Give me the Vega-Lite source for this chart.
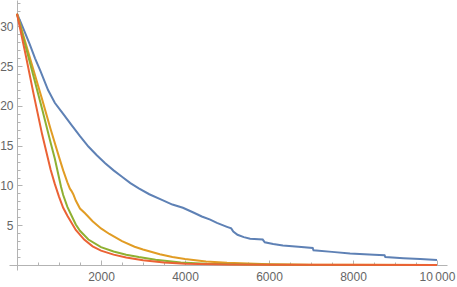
{
  "$schema": "https://vega.github.io/schema/vega-lite/v6.json",
  "width": 438,
  "height": 270,
  "autosize": {"type": "none"},
  "padding": {"left": 9, "top": 0, "right": 10, "bottom": 17},
  "background": "white",
  "config": {"view": {"stroke": null}},
  "resolve": {"axis": {"x": "independent", "y": "independent"}},
  "datasets": {
    "blue": [
      {"x":0,"y":31.6},{"x":100,"y":30.4},{"x":200,"y":29.1},{"x":300,"y":27.8},{"x":430,"y":26.0},{"x":550,"y":24.5},{"x":740,"y":22.0},{"x":900,"y":20.4},{"x":1100,"y":19.0},{"x":1300,"y":17.6},{"x":1500,"y":16.2},{"x":1700,"y":14.9},{"x":1900,"y":13.8},{"x":2100,"y":12.8},{"x":2300,"y":11.9},{"x":2500,"y":11.1},{"x":2700,"y":10.3},{"x":2900,"y":9.65},{"x":3150,"y":8.9},{"x":3450,"y":8.2},{"x":3700,"y":7.6},{"x":3950,"y":7.2},{"x":4200,"y":6.6},{"x":4400,"y":6.1},{"x":4600,"y":5.7},{"x":4760,"y":5.3},{"x":5000,"y":4.8},{"x":5100,"y":4.6},{"x":5150,"y":4.2},{"x":5250,"y":3.8},{"x":5400,"y":3.5},{"x":5550,"y":3.3},{"x":5850,"y":3.2},{"x":5900,"y":2.85},{"x":6100,"y":2.65},{"x":6330,"y":2.45},{"x":6700,"y":2.3},{"x":7040,"y":2.15},{"x":7060,"y":1.85},{"x":7500,"y":1.65},{"x":7930,"y":1.45},{"x":8500,"y":1.3},{"x":8750,"y":1.22},{"x":8770,"y":1.0},{"x":9200,"y":0.85},{"x":9600,"y":0.74},{"x":10000,"y":0.63}
    ],
    "orange": [
      {"x":0,"y":31.6},{"x":200,"y":28.0},{"x":400,"y":24.4},{"x":600,"y":20.8},{"x":800,"y":17.1},{"x":1000,"y":13.6},{"x":1100,"y":11.9},{"x":1200,"y":10.4},{"x":1260,"y":9.6},{"x":1300,"y":9.3},{"x":1340,"y":8.9},{"x":1400,"y":8.1},{"x":1500,"y":7.1},{"x":1620,"y":6.5},{"x":1800,"y":5.5},{"x":2000,"y":4.6},{"x":2200,"y":3.9},{"x":2500,"y":3.0},{"x":2800,"y":2.3},{"x":3000,"y":1.95},{"x":3400,"y":1.35},{"x":3700,"y":1.0},{"x":4000,"y":0.75},{"x":4500,"y":0.45},{"x":5000,"y":0.27},{"x":6000,"y":0.1},{"x":7000,"y":0.04},{"x":8000,"y":0.015},{"x":10000,"y":0}
    ],
    "green": [
      {"x":0,"y":31.6},{"x":200,"y":27.6},{"x":400,"y":23.6},{"x":600,"y":19.6},{"x":800,"y":15.4},{"x":900,"y":13.4},{"x":1000,"y":11.0},{"x":1050,"y":9.8},{"x":1100,"y":8.8},{"x":1200,"y":7.3},{"x":1300,"y":6.2},{"x":1400,"y":5.1},{"x":1500,"y":4.3},{"x":1700,"y":3.2},{"x":2000,"y":2.25},{"x":2300,"y":1.7},{"x":2600,"y":1.3},{"x":2900,"y":1.0},{"x":3300,"y":0.65},{"x":3900,"y":0.3},{"x":4500,"y":0.15},{"x":5500,"y":0.05},{"x":7000,"y":0.01},{"x":10000,"y":0}
    ],
    "red": [
      {"x":0,"y":31.6},{"x":200,"y":26.6},{"x":400,"y":21.4},{"x":600,"y":16.4},{"x":800,"y":12.0},{"x":900,"y":10.2},{"x":1000,"y":8.6},{"x":1100,"y":7.2},{"x":1200,"y":6.2},{"x":1400,"y":4.4},{"x":1600,"y":3.2},{"x":1800,"y":2.35},{"x":2000,"y":1.8},{"x":2300,"y":1.3},{"x":2600,"y":0.95},{"x":3000,"y":0.6},{"x":3500,"y":0.32},{"x":4000,"y":0.17},{"x":5000,"y":0.05},{"x":6000,"y":0.02},{"x":10000,"y":0}
    ]
  },
  "layer": [
    {
      "data": {"name": "blue"},
      "mark": {"type": "line", "color": "#5E81B5", "strokeWidth": 2},
      "encoding": {
        "x": {"field": "x", "type": "quantitative",
          "scale": {"domain": [-190, 10238], "nice": false, "zero": false},
          "axis": {
            "orient": "bottom", "title": null, "grid": false, "offset": -5,
            "values": [2000,4000,6000,8000,10000],
            "labelExpr": "datum.value === 10000 ? '10\u2009000' : '' + datum.value",
            "domainColor": "#b3b3b3", "tickColor": "#b3b3b3",
            "tickSize": -5,
            "labelPadding": 11, "labelColor": "#666666", "labelFont": "Liberation Sans", "labelFontSize": 12,
            "labelFlush": false, "labelOverlap": false
          }
        },
        "y": {"field": "y", "type": "quantitative",
          "scale": {"domain": [-0.63, 33.33], "nice": false, "zero": false},
          "axis": {
            "orient": "left", "title": null, "grid": false, "offset": -8,
            "values": [5,10,15,20,25,30],
            "labelExpr": "'' + datum.value",
            "domainColor": "#b3b3b3", "tickColor": "#b3b3b3",
            "tickSize": -5,
            "labelPadding": 9, "labelColor": "#666666", "labelFont": "Liberation Sans", "labelFontSize": 12,
            "labelFlush": false, "labelOverlap": false
          }
        }
      }
    },
    {
      "data": {"name": "orange"},
      "mark": {"type": "line", "color": "#E19C24", "strokeWidth": 2},
      "encoding": {
        "x": {"field": "x", "type": "quantitative",
          "axis": {
            "orient": "bottom", "title": null, "grid": false, "offset": -5, "domain": false, "labels": false,
            "values": [500,1000,1500,2500,3000,3500,4500,5000,5500,6500,7000,7500,8500,9000,9500],
            "tickColor": "#b3b3b3", "tickSize": -3
          }
        },
        "y": {"field": "y", "type": "quantitative",
          "axis": {
            "orient": "left", "title": null, "grid": false, "offset": -8, "domain": false, "labels": false,
            "values": [1,2,3,4,6,7,8,9,11,12,13,14,16,17,18,19,21,22,23,24,26,27,28,29,31,32,33],
            "tickColor": "#b3b3b3", "tickSize": -3
          }
        }
      }
    },
    {
      "data": {"name": "green"},
      "mark": {"type": "line", "color": "#8FB032", "strokeWidth": 2},
      "encoding": {"x": {"field": "x", "type": "quantitative", "axis": null}, "y": {"field": "y", "type": "quantitative", "axis": null}}
    },
    {
      "data": {"name": "red"},
      "mark": {"type": "line", "color": "#EB6235", "strokeWidth": 2},
      "encoding": {"x": {"field": "x", "type": "quantitative", "axis": null}, "y": {"field": "y", "type": "quantitative", "axis": null}}
    }
  ]
}
